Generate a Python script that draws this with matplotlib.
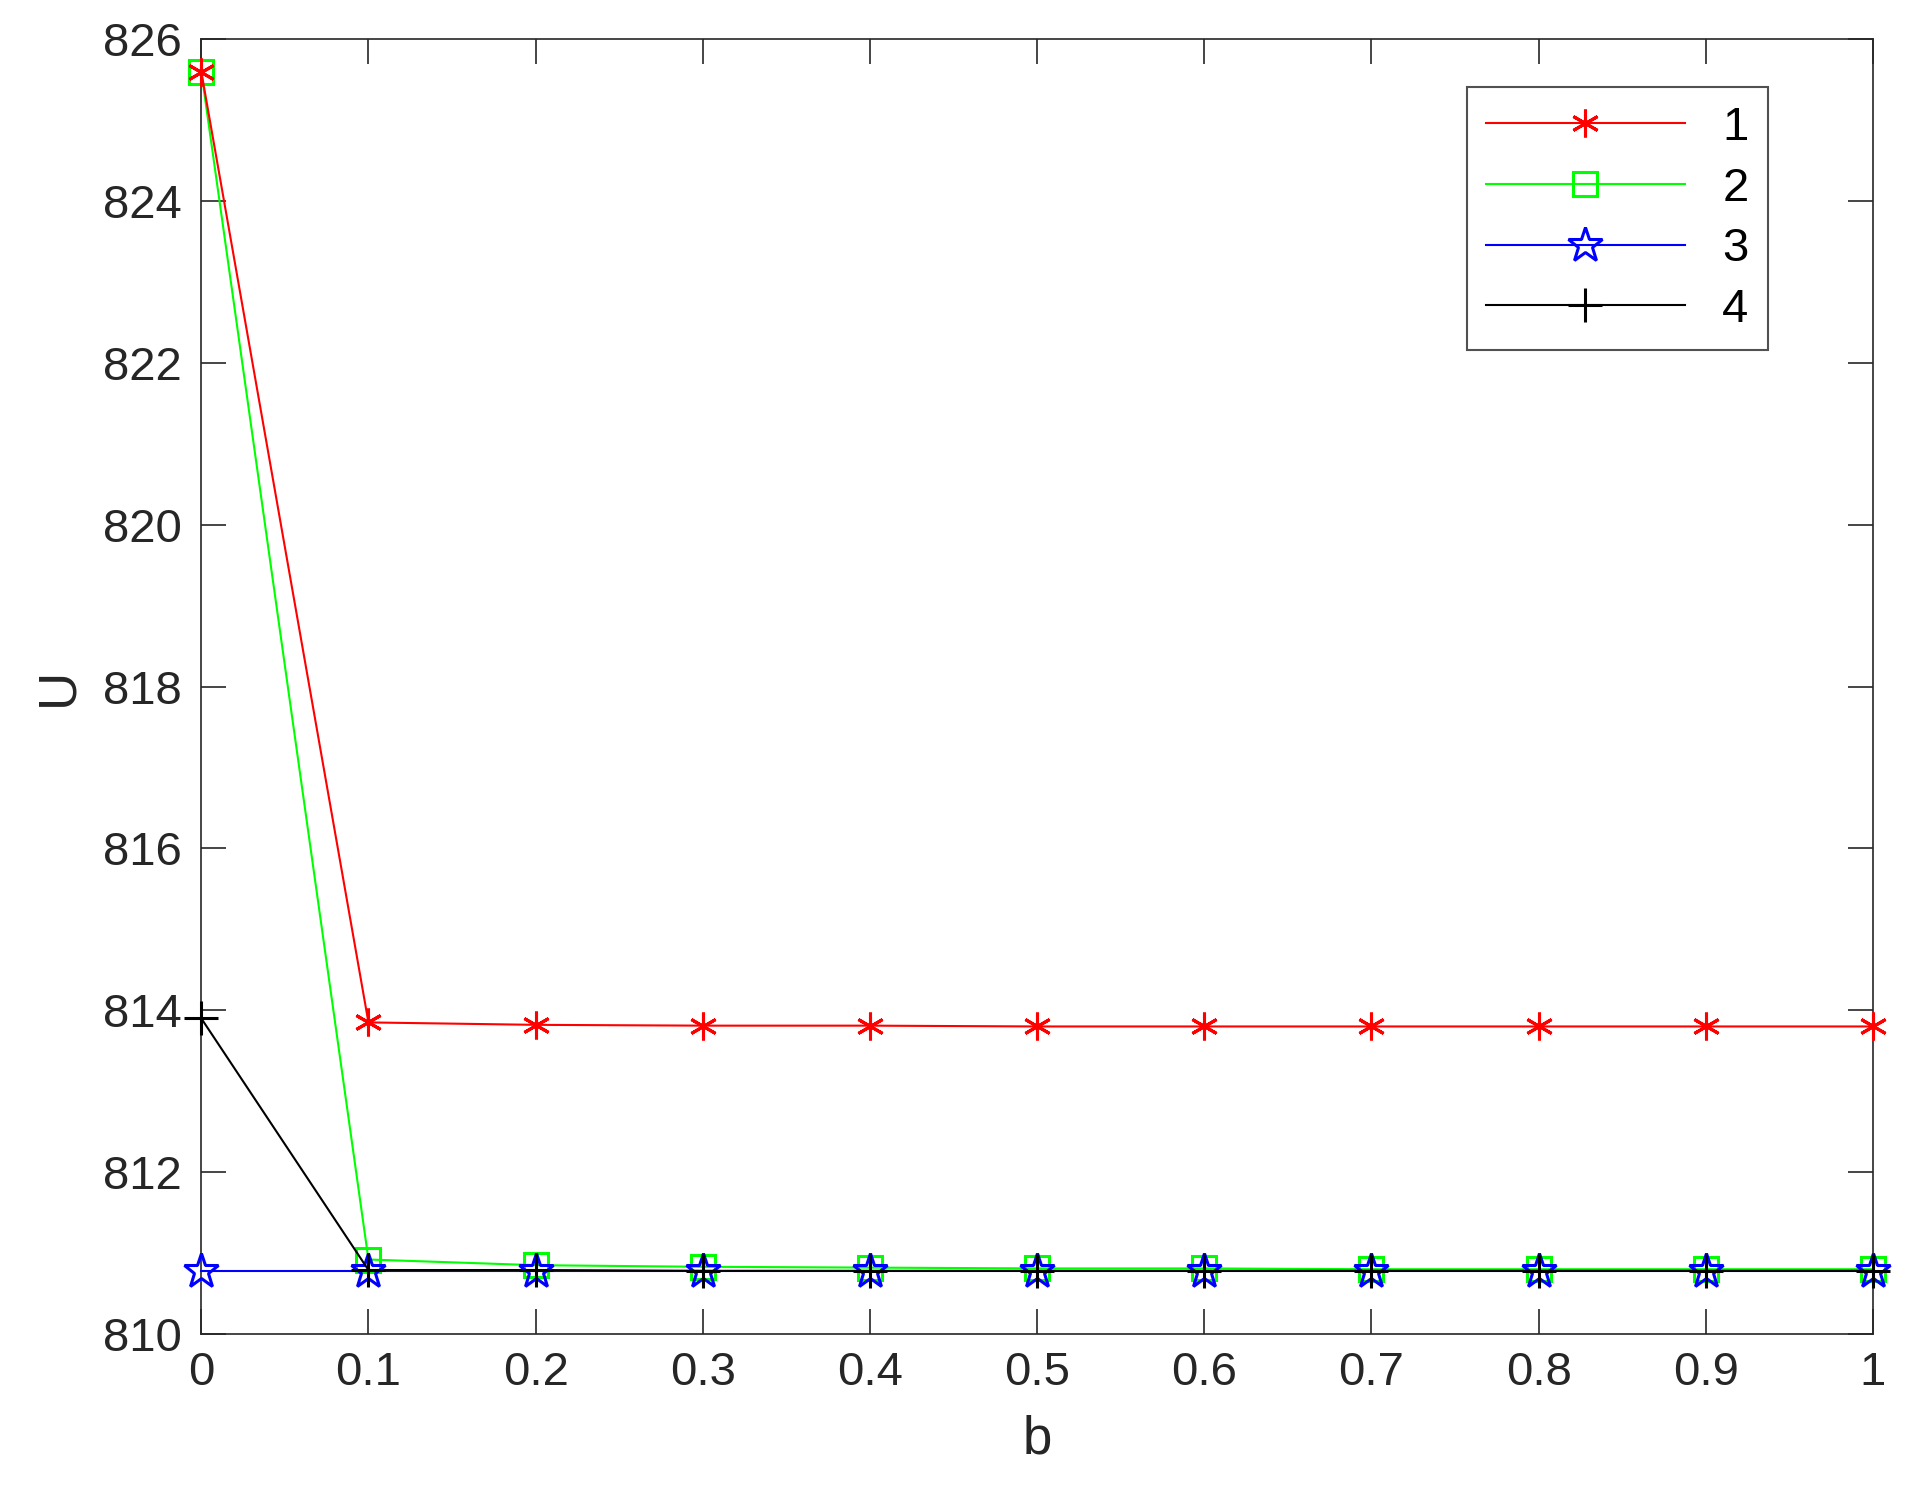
import matplotlib
matplotlib.use("Agg")
import matplotlib.pyplot as plt

plt.rcParams['font.family'] = ['Liberation Sans', 'DejaVu Sans']

b = [0, 0.1, 0.2, 0.3, 0.4, 0.5, 0.6, 0.7, 0.8, 0.9, 1.0]
s1 = [825.6, 813.85, 813.82, 813.81, 813.81, 813.80, 813.80, 813.80, 813.80, 813.80, 813.80]
s2 = [825.6, 810.92, 810.85, 810.83, 810.82, 810.81, 810.81, 810.80, 810.80, 810.80, 810.80]
s3 = [810.78] * 11
s4 = [813.9, 810.79, 810.79, 810.78, 810.78, 810.78, 810.78, 810.78, 810.78, 810.78, 810.78]
labels = ['1', '2', '3', '4']

fig = plt.figure(figsize=(19.17, 15.09), dpi=100)
ax = fig.add_axes([0.105, 0.116, 0.872, 0.858])
ax.plot(b, s1, color='#ff0000', marker=(6, 2, 0), ms=20, mew=2.2, lw=1.5, label=labels[0], clip_on=False, zorder=3)
ax.plot(b, s2, color='#00ff00', marker='s', ms=17, mfc='none', mew=2.2, lw=1.5, label=labels[1], clip_on=False, zorder=2)
ax.plot(b, s3, color='#0000ff', marker='*', ms=26, mfc='none', mew=2.2, lw=1.5, label=labels[2], clip_on=False, zorder=3)
ax.plot(b, s4, color='black', marker='+', ms=24, mew=2.2, lw=1.5, label=labels[3], clip_on=False, zorder=4)

ax.set_xlim(0, 1)
ax.set_ylim(810, 826)
ax.set_xticks(b)
ax.set_xticklabels(['0', '0.1', '0.2', '0.3', '0.4', '0.5', '0.6', '0.7', '0.8', '0.9', '1'])
ax.set_yticks(range(810, 827, 2))
ax.tick_params(direction='in', top=True, right=True, labelsize=34, length=18, width=1.2, pad=12, colors='#262626', labelcolor='#262626')
ax.tick_params(axis='y', pad=14)
for s in ax.spines.values():
    s.set_linewidth(1.2)
    s.set_color('#262626')
ax.set_xlabel('b', fontsize=38, color='#262626', labelpad=14)
ax.set_ylabel('U', fontsize=38, color='#262626', labelpad=14)
leg = ax.legend(loc='upper right', fontsize=34, frameon=True, fancybox=False, edgecolor='#262626',
                handlelength=4.2, borderaxespad=0, bbox_to_anchor=(0.937, 0.963), labelspacing=0.35)
leg.get_frame().set_linewidth(1.5)
fig.savefig('out.png', dpi=100)
